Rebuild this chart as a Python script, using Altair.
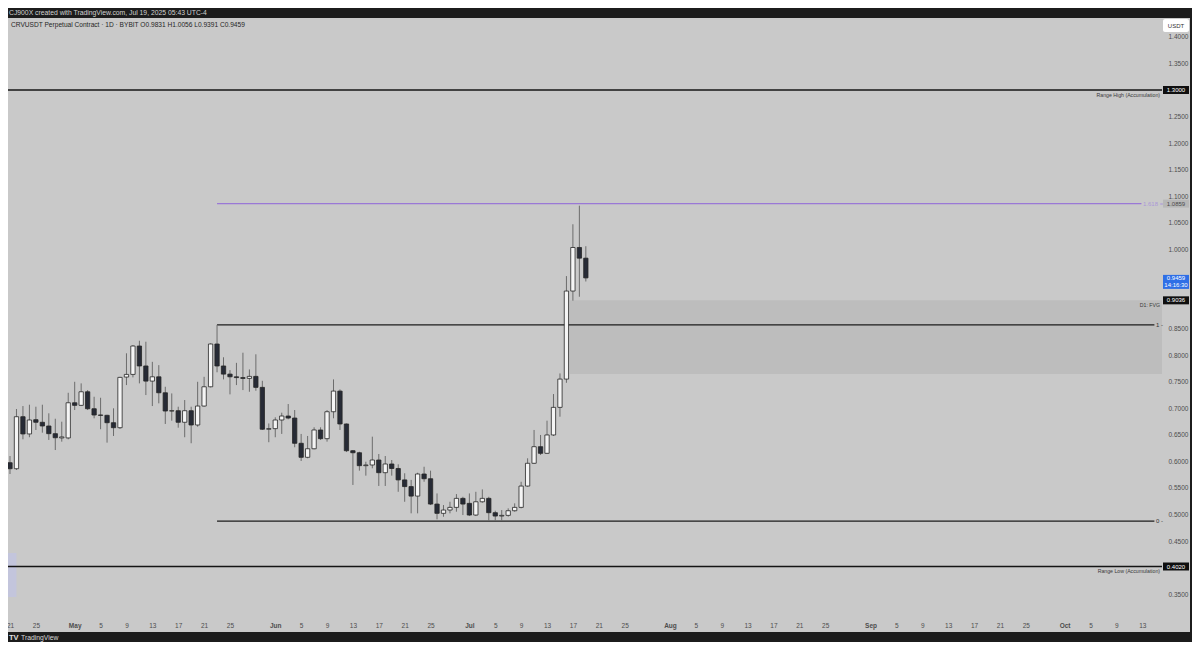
import altair as alt
import pandas as pd

FONT = "Liberation Sans"

# ---------------- data ----------------
dates = pd.date_range("2025-04-21", periods=90, freq="D").strftime("%Y-%m-%d").tolist()

opens = [
    .5976, .5863, .6843, .6518, .6787, .6738, .6668, .6523, .6443, .6443,
    .7106, .7057, .7313, .6993, .6875, .6869, .6730, .6636, .7590, .7640,
    .8175, .7799, .7514, .7595, .7294, .6950, .6956, .6738, .6956, .6687,
    .7044, .7407, .8213, .7799, .7646, .7595, .7580, .7565, .7603, .7396,
    .6607, .6618, .6781, .6856, .6818, .6342, .6078, .6239, .6593, .6429,
    .6937, .7326, .6706, .6202, .6164, .5920, .5933, .6027, .5788, .5952,
    .5867, .5652, .5526, .5347, .5763, .5674, .5197, .5022, .5084, .5134,
    .5304, .5210, .4990, .5240, .5304, .5034, .4971, .4984, .5071, .5134,
    .5536, .5965, .6278, .6153, .6499, .7019, .7552, .9211, 1.0032, .9831,
]
highs = [
    .6102, .6988, .7044, .7069, .7031, .7069, .6907, .6805, .6749, .7294,
    .7501, .7471, .7345, .7219, .7200, .6880, .7001, .7595, .8038, .8194,
    .8275, .8256, .7877, .7815, .7407, .7282, .7031, .7157, .7031, .7501,
    .7595, .8226, .8574, .7963, .7721, .7858, .8049, .7734, .8019, .7520,
    .6716, .6832, .6919, .7082, .6969, .6518, .6480, .6644, .6644, .6969,
    .7546, .7358, .6716, .6215, .6183, .5995, .6467, .6140, .6102, .6027,
    .5946, .5777, .5652, .5787, .5900, .5826, .5397, .5178, .5240, .5385,
    .5334, .5397, .5428, .5473, .5334, .5071, .5084, .5116, .5210, .5617,
    .6059, .6593, .6499, .6768, .7270, .7659, .9493, 1.0470, 1.0820, 1.0056,
]
lows = [
    .5763, .5839, .6417, .6456, .6593, .6542, .6405, .6215, .6373, .6417,
    .6969, .7044, .6969, .6813, .6607, .6354, .6480, .6612, .7439, .7584,
    .7471, .7251, .7044, .7095, .6706, .6768, .6636, .6456, .6343, .6654,
    .7031, .7395, .7680, .7546, .7264, .7439, .7345, .7313, .7332, .6593,
    .6362, .6456, .6518, .6794, .6267, .6008, .6059, .6228, .6405, .6373,
    .6813, .6593, .6177, .5557, .5826, .5732, .5871, .5538, .5538, .5732,
    .5428, .5240, .5022, .5022, .5617, .5178, .4909, .4958, .5022, .5053,
    .4990, .4971, .4971, .5221, .4877, .4880, .4880, .4958, .5053, .5116,
    .5523, .5952, .6121, .6140, .6480, .6843, .7482, .9029, .9104, .9391,
]
closes = [
    .5863, .6843, .6518, .6781, .6738, .6668, .6523, .6447, .6462, .7106,
    .7057, .7313, .6993, .6875, .6869, .6730, .6636, .7584, .7640, .8175,
    .7799, .7514, .7595, .7294, .6950, .6956, .6738, .6956, .6687, .7044,
    .7407, .8213, .7799, .7646, .7595, .7580, .7565, .7603, .7396, .6607,
    .6618, .6781, .6856, .6818, .6342, .6078, .6239, .6593, .6429, .6937,
    .7326, .6706, .6202, .6164, .5920, .5933, .6027, .5788, .5952, .5867,
    .5652, .5526, .5347, .5763, .5674, .5197, .5022, .5084, .5134, .5304,
    .5197, .4990, .5240, .5304, .5034, .4971, .4984, .5071, .5134, .5536,
    .5965, .6278, .6153, .6499, .7019, .7552, .9211, 1.0032, .9831, .9459,
]

tick_dates = [
    "2025-04-21", "2025-04-25",
    "2025-05-01", "2025-05-05", "2025-05-09", "2025-05-13", "2025-05-17", "2025-05-21", "2025-05-25",
    "2025-06-01", "2025-06-05", "2025-06-09", "2025-06-13", "2025-06-17", "2025-06-21", "2025-06-25",
    "2025-07-01", "2025-07-05", "2025-07-09", "2025-07-13", "2025-07-17", "2025-07-21", "2025-07-25",
    "2025-08-01", "2025-08-05", "2025-08-09", "2025-08-13", "2025-08-17", "2025-08-21", "2025-08-25",
    "2025-09-01", "2025-09-05", "2025-09-09", "2025-09-13", "2025-09-17", "2025-09-21", "2025-09-25",
    "2025-10-01", "2025-10-05", "2025-10-09", "2025-10-13",
]
# price-scale labels (those hidden behind the coloured tags are left out)
price_ticks = [0.35, 0.45, 0.50, 0.55, 0.60, 0.65, 0.70, 0.75, 0.80, 0.85,
               1.00, 1.05, 1.10, 1.15, 1.20, 1.25, 1.35, 1.40]

# horizontal levels
level_names = ["Range High", "Range Low", "Fib 1", "Fib 0", "Fib 1.618"]
level_prices = [1.3000, 0.4020, 0.8574, 0.4877, 1.0859]
level_start = ["2025-03-01", "2025-03-01", "2025-05-23", "2025-05-23", "2025-05-23"]
level_end = ["2025-12-01", "2025-12-01", "2025-10-14T21:00:00Z", "2025-10-14T21:00:00Z", "2025-10-12T21:00:00Z"]
level_colors = ["#141414", "#141414", "#1c1c1c", "#1c1c1c", "#9a78d6"]

# FVG zone
fvg_start, fvg_end = "2025-07-16T12:00:00Z", "2025-12-01"
fvg_top, fvg_bottom = 0.9036, 0.7648

# old small box at left
old_box_start, old_box_end = "2025-03-01", "2025-04-22"
old_box_top, old_box_bottom = 0.4274, 0.3445

# price-scale tags
tag_prices = [1.3000, 1.0859, 0.9036, 0.4020]
tag_texts = ["1.3000", "1.0859", "0.9036", "0.4020"]
tag_fills = ["#0f0f0f", "#b7b7b7", "#0f0f0f", "#0f0f0f"]
tag_text_colors = ["#ffffff", "#4a4a4a", "#ffffff", "#ffffff"]

last_price = 0.9459
countdown = "14:16:30"

# in-chart annotations (right-aligned)
note_texts = ["Range High (Accumulation)", "Range Low (Accumulation)", "D1: FVG"]
note_prices = [1.3000, 0.4020, 0.9036]

fib_texts = ["1 -", "0 -"]
fib_prices = [0.8574, 0.4877]

header = "CJ900X created with TradingView.com, Jul 19, 2025 05:43 UTC-4"
legend = "CRVUSDT Perpetual Contract · 1D · BYBIT   O0.9831   H1.0056   L0.9391   C0.9459"

# ---------------- scales / axes ----------------
W, H = 1154, 597
x_scale = alt.Scale(
    type="utc", padding=0,
    domain=[alt.DateTime(year=2025, month=4, date=20, hours=16, minutes=35, utc=True),
            alt.DateTime(year=2025, month=10, date=16, hours=1, minutes=12, utc=True)],
)
y_scale = alt.Scale(domain=[0.3106, 1.4357], nice=False, zero=False, padding=0)


def to_dt(s):
    y, m, d = s.split("-")
    return alt.DateTime(year=int(y), month=int(m), date=int(d), utc=True)


x_axis = alt.Axis(
    values=[to_dt(s) for s in tick_dates],
    labelExpr="utcdate(datum.value) == 1 ? utcFormat(datum.value, '%b') : utcFormat(datum.value, '%-d')",
    labelFontWeight={"condition": {"test": "utcdate(datum.value) == 1", "value": "bold"}, "value": "normal"},
    labelColor="#4d4d4d", labelFontSize=6.5, labelFont=FONT, labelPadding=7,
    domain=False, ticks=False, grid=False, labelFlush=False, labelOverlap=False,
    labelBound=False, title=None,
)
y_axis = alt.Axis(
    orient="right", values=price_ticks, format=".4f",
    labelColor="#4d4d4d", labelFontSize=6.5, labelFont=FONT, labelPadding=6,
    domain=False, ticks=False, grid=False, labelFlush=False, labelOverlap=False, title=None,
)

X = lambda f: alt.X(f, type="temporal", scale=x_scale, axis=x_axis)
Y = lambda f: alt.Y(f, type="quantitative", scale=y_scale, axis=y_axis)

candles = pd.DataFrame({"date": dates, "open": opens, "high": highs, "low": lows, "close": closes})
levels = pd.DataFrame({"name": level_names, "price": level_prices, "start": level_start,
                       "end": level_end, "color": level_colors})
tags = pd.DataFrame({"price": tag_prices, "txt": tag_texts, "fill": tag_fills, "tc": tag_text_colors})
notes = pd.DataFrame({"price": note_prices, "txt": note_texts})
fibs = pd.DataFrame({"price": fib_prices, "txt": fib_texts})
one = alt.Data(values=[{}])

DARK = "#1c1c1c"

# ---------------- layers ----------------
top_band = alt.Chart(one).mark_rect(color=DARK).encode(
    x=alt.value(0), x2=alt.value(1184), y=alt.value(-10), y2=alt.value(0))
bottom_band = alt.Chart(one).mark_rect(color=DARK).encode(
    x=alt.value(0), x2=alt.value(1184), y=alt.value(614), y2=alt.value(624))
right_band = alt.Chart(one).mark_rect(color=DARK).encode(
    x=alt.value(1182), x2=alt.value(1184), y=alt.value(-10), y2=alt.value(624))

old_box = alt.Chart(pd.DataFrame({"s": [old_box_start], "e": [old_box_end],
                                  "t": [old_box_top], "b": [old_box_bottom]})).mark_rect(
    color="#c3c5dc", clip=True).encode(x=X("s"), x2="e", y=Y("t"), y2="b")

fvg = alt.Chart(pd.DataFrame({"s": [fvg_start], "e": [fvg_end],
                              "t": [fvg_top], "b": [fvg_bottom]})).mark_rect(
    color="#bdbdbd", clip=True).encode(x=X("s"), x2="e", y=Y("t"), y2="b")

level_rules = alt.Chart(levels).mark_rule(strokeWidth=1.3, clip=True).encode(
    x=X("start"), x2="end", y=Y("price"), color=alt.Color("color:N", scale=None))

wicks = alt.Chart(candles).mark_rule(color="#6c6c6c", strokeWidth=1).encode(
    x=X("date"), y=Y("low"), y2="high")

bodies = alt.Chart(candles).mark_bar(size=4.3, stroke="#262626", strokeWidth=0.8).encode(
    x=X("date"), y=Y("open"), y2="close",
    fill=alt.condition("datum.close >= datum.open", alt.value("#f5f5f5"), alt.value("#272b36")))

note_text = alt.Chart(notes).mark_text(align="right", baseline="middle", fontSize=5.2, font=FONT,
                                       color="#3a3a3a", yOffset=4.5).encode(
    x=alt.value(1152), y=Y("price"), text="txt:N")

fib_text = alt.Chart(fibs).mark_text(align="left", baseline="middle", fontSize=6, font=FONT,
                                     color="#333333").encode(
    x=alt.value(1148), y=Y("price"), text="txt:N")

fib618_text = alt.Chart(pd.DataFrame({"price": [1.0859], "txt": ["1.618 ="]})).mark_text(
    align="left", baseline="middle", fontSize=6, font=FONT, color="#ab98d8").encode(
    x=alt.value(1135), y=Y("price"), text="txt:N")

tag_box = alt.Chart(tags).mark_bar(orient="horizontal", size=8).encode(
    x=alt.value(1155), x2=alt.value(1181), y=Y("price"), color=alt.Color("fill:N", scale=None))
tag_text = alt.Chart(tags).mark_text(align="center", baseline="middle", fontSize=6, font=FONT).encode(
    x=alt.value(1168), y=Y("price"), text="txt:N", color=alt.Color("tc:N", scale=None))

last_df = pd.DataFrame({"price": [last_price], "txt": [f"{last_price:.4f}"], "cd": [countdown]})
last_box = alt.Chart(last_df).mark_bar(orient="horizontal", size=14, yOffset=4, color="#2f6fe6").encode(
    x=alt.value(1155), x2=alt.value(1181), y=Y("price"))
last_t1 = alt.Chart(last_df).mark_text(align="center", baseline="middle", fontSize=6, font=FONT,
                                       color="white", yOffset=0.5).encode(
    x=alt.value(1168), y=Y("price"), text="txt:N")
last_t2 = alt.Chart(last_df).mark_text(align="center", baseline="middle", fontSize=6, font=FONT,
                                       color="white", yOffset=7.5).encode(
    x=alt.value(1168), y=Y("price"), text="cd:N")

usdt_box = alt.Chart(one).mark_rect(color="#ffffff", cornerRadius=2).encode(
    x=alt.value(1155), x2=alt.value(1181), y=alt.value(1), y2=alt.value(14))
usdt_text = alt.Chart(one).mark_text(align="center", baseline="middle", fontSize=6, font=FONT,
                                     color="#333333").encode(
    x=alt.value(1168), y=alt.value(7.5), text=alt.value("USDT"))

header_text = alt.Chart(one).mark_text(align="left", baseline="middle", fontSize=6.8, font=FONT,
                                       color="#d2d2d2").encode(
    x=alt.value(1), y=alt.value(-5), text=alt.value(header))
legend_text = alt.Chart(one).mark_text(align="left", baseline="middle", fontSize=6.6, font=FONT,
                                       color="#262626").encode(
    x=alt.value(3), y=alt.value(7), text=alt.value(legend))
logo_tv = alt.Chart(one).mark_text(align="left", baseline="middle", fontSize=7.5, font=FONT,
                                   fontWeight="bold", color="#e0e0e0").encode(
    x=alt.value(1), y=alt.value(619.5), text=alt.value("TV"))
logo_text = alt.Chart(one).mark_text(align="left", baseline="middle", fontSize=6.8, font=FONT,
                                     color="#d8d8d8").encode(
    x=alt.value(13), y=alt.value(619.5), text=alt.value("TradingView"))

chart = alt.layer(
    top_band, bottom_band, right_band, old_box, fvg, level_rules, wicks, bodies,
    note_text, fib_text, fib618_text, tag_box, tag_text, last_box, last_t1, last_t2,
    usdt_box, usdt_text, header_text, legend_text, logo_tv, logo_text,
).properties(
    width=W, height=H,
    background="#c9c9c9",
    padding={"left": 0, "top": 10, "right": 30, "bottom": 27},
    autosize=alt.AutoSizeParams(type="none"),
).configure_view(strokeWidth=0)

chart.save("out.html", embed_options={"renderer": "svg", "actions": False})
